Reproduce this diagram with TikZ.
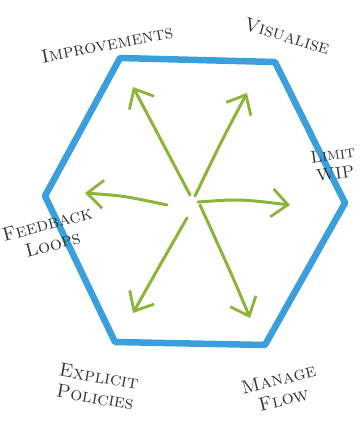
\documentclass[tikz,border=0pt]{standalone}
\usepackage{tikz}
\usetikzlibrary{arrows.meta}
\definecolor{hexblue}{HTML}{3A9FDC}
\definecolor{leafgreen}{HTML}{8CB33A}
\definecolor{inkgray}{HTML}{333333}
\tikzset{
  hexside/.style={hexblue,line width=6.5pt,line join=round,line cap=round},
  flowarrow/.style={-{Straight Barb[length=16pt,width=28pt,line width=2.8pt]},leafgreen,line width=3pt,line cap=round},
  practice/.style={inkgray,align=center,inner sep=0pt,font=\fontsize{19}{21}\selectfont\scshape}
}

\begin{document}
\begin{tikzpicture}[x=1pt,y=-1pt]
\useasboundingbox (0,0) rectangle (361,421);
\draw[hexside] (120,58)--(275,62)--(345,203)--(265,345)--(115,342)--(45,196)--cycle;
\draw[flowarrow] (190,195) .. controls (163,142) .. (133,87);
\draw[flowarrow] (195,196) .. controls (222,140) .. (247,93);
\draw[flowarrow] (167,205) .. controls (125,196) .. (85,193);
\draw[flowarrow] (198,202) .. controls (240,199) .. (290,205);
\draw[flowarrow] (187,218) .. controls (160,265) .. (133,313);
\draw[flowarrow] (200,205) .. controls (232,275) .. (250,318);
\node[practice,rotate=11] (improve) at (107,44) {Improvements};
\node[practice,rotate=-17] (visual) at (287,36) {Visualise};
\node[practice,rotate=8,font=\fontsize{17}{19}\selectfont\scshape] (wip) at (334,164) {Limit\\WIP};
\node[practice,rotate=15] (feedback) at (50,234) {Feedback\\Loops};
\node[practice,rotate=-10] (policies) at (97,387) {Explicit\\Policies};
\node[practice,rotate=14] (flow) at (281,389) {Manage\\Flow};
\end{tikzpicture}
\end{document}
